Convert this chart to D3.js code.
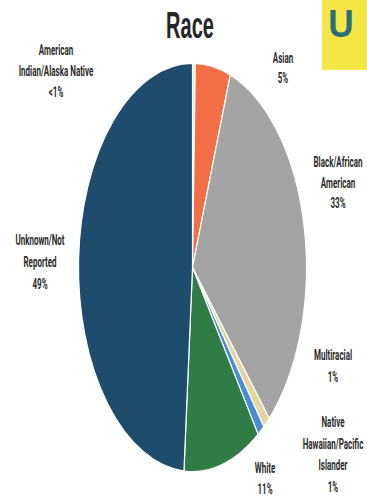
<!DOCTYPE html>
<html>
<head>
<meta charset="utf-8">
<script src="https://cdn.jsdelivr.net/npm/d3@7"></script>
<style>
  html, body { margin: 0; padding: 0; background: #ffffff; }
  svg { display: block; }
</style>
</head>
<body>
<svg id="chart" width="367" height="499"></svg>
<script>
// Race breakdown, percent of total, clockwise from 12 o'clock
const categories = [
  "American Indian/Alaska Native",
  "Asian",
  "Black/African American",
  "Multiracial",
  "Native Hawaiian/Pacific Islander",
  "White",
  "Unknown/Not Reported"
];
const values = [0.4, 5, 33, 1, 1, 11, 49];
const labelLines = [
  ["American", "Indian/Alaska Native"],
  ["Asian"],
  ["Black/African", "American"],
  ["Multiracial"],
  ["Native", "Hawaiian/Pacific", "Islander"],
  ["White"],
  ["Unknown/Not", "Reported"]
];
const colors = ["#f1e4c4", "#f26f45", "#a4a4a4", "#e4d59c", "#4a8ccf", "#2f7d45", "#1d4c6d"];

// Label placement (center x, first baseline y, line step)
const labelLayout = [
  [56, 55, 21],
  [283, 63, 20],
  [338, 167, 20.5],
  [333, 360, 22],
  [333, 427, 21.5],
  [265, 473, 21],
  [40, 245, 22]
];

const svg = d3.select("#chart");
const cx = 192.5, cy = 267.5;
const rx = 114, stretch = 1.79;

const pctText = v => v < 1 ? "<1%" : Math.round(v) + "%";

// Neighbouring panel at the top right
svg.append("rect")
  .attr("x", 322).attr("y", -5).attr("width", 60).attr("height", 75)
  .attr("fill", "#f5e646");
svg.append("text")
  .attr("transform", "translate(341,37) scale(1.6,1.8)")
  .attr("text-anchor", "middle")
  .attr("font-family", "Liberation Sans, Arial, sans-serif")
  .attr("font-weight", "bold")
  .attr("font-size", 22)
  .attr("fill", "#2a6f7d")
  .text("U");

// Title
svg.append("text")
  .attr("transform", "translate(190,38) scale(1,1.8)")
  .attr("text-anchor", "middle")
  .attr("font-family", "Liberation Sans, Arial, sans-serif")
  .attr("font-weight", "bold")
  .attr("font-size", 20)
  .attr("fill", "#262626")
  .text("Race");

// Pie
const data = categories.map((c, i) => ({ name: c, value: values[i], color: colors[i], lines: labelLines[i], layout: labelLayout[i] }));
const pie = d3.pie().sort(null).value(d => d.value).startAngle(0).endAngle(2 * Math.PI);
const arc = d3.arc().innerRadius(0).outerRadius(rx);

const g = svg.append("g")
  .attr("transform", `translate(${cx},${cy}) scale(1,${stretch})`);

g.selectAll("path")
  .data(pie(data))
  .join("path")
  .attr("d", arc)
  .attr("fill", d => d.data.color)
  .attr("stroke", "#ffffff")
  .attr("stroke-width", 1.2)
  .attr("vector-effect", "non-scaling-stroke");

// Data labels
const labels = svg.append("g")
  .attr("font-family", "Roboto, Liberation Sans, Arial, sans-serif")
  .attr("font-weight", "bold")
  .attr("font-size", 8)
  .attr("fill", "#2b2b2b")
  .attr("text-anchor", "middle");

data.forEach(d => {
  const [x, y0, step] = d.layout;
  const lines = d.lines.concat([pctText(d.value)]);
  lines.forEach((t, j) => {
    labels.append("text")
      .attr("transform", `translate(${x},${y0 + j * step}) scale(1,${stretch})`)
      .text(t);
  });
});
</script>
</body>
</html>
